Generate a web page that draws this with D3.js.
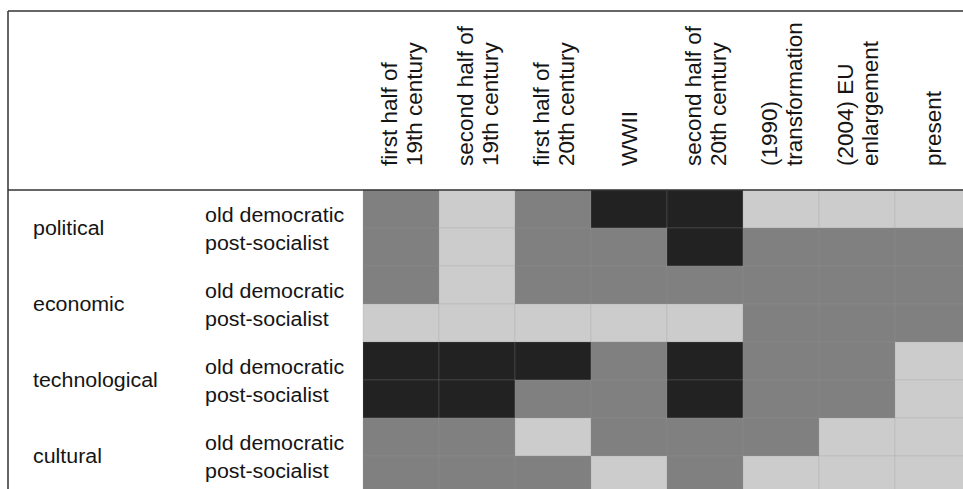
<!DOCTYPE html>
<html>
<head>
<meta charset="utf-8">
<script src="https://cdn.jsdelivr.net/npm/d3@7"></script>
<style>
  html, body { margin: 0; padding: 0; background: #fff; }
  svg { display: block; }
  text { font-family: "Liberation Sans", Arial, sans-serif; fill: #151515; }
</style>
</head>
<body>
<svg id="chart" width="963" height="489"></svg>
<script>
// ---- data ----
const periods = [
  ["first half of", "19th century"],
  ["second half of", "19th century"],
  ["first half of", "20th century"],
  ["WWII"],
  ["second half of", "20th century"],
  ["(1990)", "transformation"],
  ["(2004) EU", "enlargement"],
  ["present"]
];
const dimensions = ["political", "economic", "technological", "cultural"];
const groups = ["old democratic", "post-socialist"];
const levelNames = ["low", "medium", "high"];
// level per period: 0 = low (light), 1 = medium, 2 = high (dark)
const politicalOld      = [1, 0, 1, 2, 2, 0, 0, 0];
const politicalPost     = [1, 0, 1, 1, 2, 1, 1, 1];
const economicOld       = [1, 0, 1, 1, 1, 1, 1, 1];
const economicPost      = [0, 0, 0, 0, 0, 1, 1, 1];
const technologicalOld  = [2, 2, 2, 1, 2, 1, 1, 0];
const technologicalPost = [2, 2, 1, 1, 2, 1, 1, 0];
const culturalOld       = [1, 1, 0, 1, 1, 1, 0, 0];
const culturalPost      = [1, 1, 1, 0, 1, 0, 0, 0];

const rowsData = [
  politicalOld, politicalPost,
  economicOld, economicPost,
  technologicalOld, technologicalPost,
  culturalOld, culturalPost
];

// ---- drawing ----
const svg = d3.select("#chart");
const periodKeys = periods.map(p => p.join(" "));
const rowKeys = [];
dimensions.forEach(d => groups.forEach(g => rowKeys.push(d + "|" + g)));

const x = d3.scaleBand().domain(periodKeys).range([363, 363 + 76 * periodKeys.length]).padding(0);
const y = d3.scaleBand().domain(rowKeys).range([190, 190 + 38 * rowKeys.length]).padding(0);
const color = d3.scaleOrdinal().domain([0, 1, 2]).range(["#cccccc", "#808080", "#222222"]);

const cells = [];
rowsData.forEach((row, ri) => row.forEach((v, ci) => cells.push({ r: rowKeys[ri], c: periodKeys[ci], v })));

svg.append("g").selectAll("rect").data(cells).join("rect")
  .attr("x", d => x(d.c))
  .attr("y", d => y(d.r))
  .attr("width", x.bandwidth())
  .attr("height", y.bandwidth())
  .attr("fill", d => color(d.v))
  .attr("stroke", "#999")
  .attr("stroke-opacity", 0.3)
  .attr("stroke-width", 0.7);

// header labels (rotated)
const hdr = svg.append("g");
periods.forEach((lines, i) => {
  const cx = x(periodKeys[i]) + x.bandwidth() / 2;
  const n = lines.length;
  const t = hdr.append("text")
    .attr("transform", `translate(${cx},166) rotate(-90)`)
    .attr("font-size", 22.5);
  lines.forEach((ln, j) => {
    t.append("tspan")
      .attr("x", 0)
      .attr("y", 8 - (n - 1) * 12.5 + j * 25)
      .text(ln);
  });
});

// row labels (slightly wide glyphs as in the reference)
const lab = svg.append("g");
function rowLabel(px, py, txt) {
  lab.append("text")
    .attr("transform", `translate(${px},${py}) scale(1.07,1)`)
    .attr("font-size", 20)
    .text(txt);
}
dimensions.forEach((d, di) => {
  const yTop = y(d + "|" + groups[0]);
  rowLabel(33, yTop + 45, d);
  groups.forEach((g, gi) => rowLabel(205, yTop + 32 + gi * 28, g));
});

// frame lines
const frame = svg.append("g").attr("stroke", "#333").attr("stroke-width", 1.5).attr("fill", "none");
frame.append("line").attr("x1", 8).attr("x2", 963).attr("y1", 11).attr("y2", 11);
frame.append("line").attr("x1", 8).attr("x2", 963).attr("y1", 190).attr("y2", 190);
frame.append("line").attr("x1", 8).attr("x2", 8).attr("y1", 11).attr("y2", 489);
</script>
</body>
</html>
